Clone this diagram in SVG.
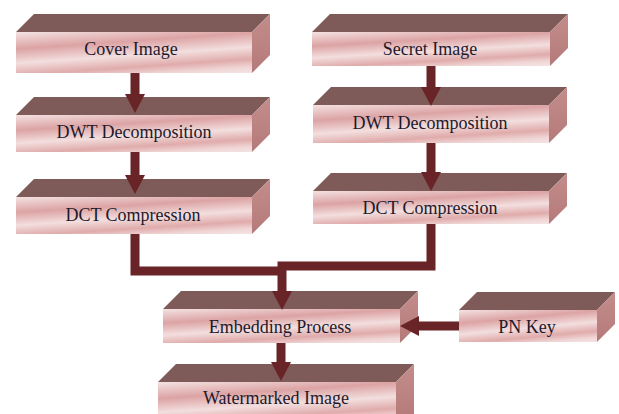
<svg xmlns="http://www.w3.org/2000/svg" width="619" height="414" viewBox="0 0 619 414">
  <defs>
    <linearGradient id="faceGrad" x1="0" y1="0" x2="0.48" y2="1.2">
      <stop offset="0" stop-color="#f4e2e2"/>
      <stop offset="0.3" stop-color="#dca3a4"/>
      <stop offset="0.55" stop-color="#f3dede"/>
      <stop offset="0.76" stop-color="#e0abab"/>
      <stop offset="0.9" stop-color="#f0d6d6"/>
      <stop offset="1" stop-color="#f4e2e2"/>
    </linearGradient>
    <linearGradient id="sideGrad" x1="0" y1="0" x2="0" y2="1">
      <stop offset="0" stop-color="#c38d8c"/>
      <stop offset="1" stop-color="#b47a79"/>
    </linearGradient>
    <marker id="head" viewBox="0 -10 19 20" markerUnits="userSpaceOnUse" markerWidth="19" markerHeight="20" refX="0" refY="0" orient="auto">
      <path d="M0,-10 L19,0 L0,10 Z" fill="#682426"/>
    </marker>
    <style>
      .top { fill: #7e5a59; }
      .side { fill: url(#sideGrad); }
      .front { fill: url(#faceGrad); }
      .label { font-family: 'Liberation Serif', serif; font-size: 18px; fill: #1c1a2c; text-anchor: middle; }
      .wire { fill: none; stroke: #682426; stroke-width: 9; stroke-linejoin: miter; }
    </style>
  </defs>

  <rect width="619" height="414" fill="#ffffff"/>

  <!-- boxes: front face, top face, right face; depth offset 18,18 -->
  <g id="cover-image">
    <polygon class="top" points="16,32 34,14 270,14 252,32"/>
    <polygon class="side" points="252,32 270,14 270,55 252,73"/>
    <rect class="front" x="16" y="32" width="236" height="41"/>
    <text class="label" font-family="'Liberation Serif'" x="131" y="55">Cover Image</text>
  </g>

  <g id="dwt-left">
    <polygon class="top" points="16,115 34,97 270,97 252,115"/>
    <polygon class="side" points="252,115 270,97 270,134 252,152"/>
    <rect class="front" x="16" y="115" width="236" height="37"/>
    <text class="label" font-family="'Liberation Serif'" x="134" y="138">DWT Decomposition</text>
  </g>

  <g id="dct-left">
    <polygon class="top" points="16,197 34,179 270,179 252,197"/>
    <polygon class="side" points="252,197 270,179 270,216 252,234"/>
    <rect class="front" x="16" y="197" width="236" height="37"/>
    <text class="label" font-family="'Liberation Serif'" x="133" y="221">DCT Compression</text>
  </g>

  <g id="secret-image">
    <polygon class="top" points="312,32 330,14 568,14 550,32"/>
    <polygon class="side" points="550,32 568,14 568,48 550,66"/>
    <rect class="front" x="312" y="32" width="238" height="34"/>
    <text class="label" font-family="'Liberation Serif'" x="430" y="55">Secret Image</text>
  </g>

  <g id="dwt-right">
    <polygon class="top" points="313,105 331,87 567,87 549,105"/>
    <polygon class="side" points="549,105 567,87 567,125 549,143"/>
    <rect class="front" x="313" y="105" width="236" height="38"/>
    <text class="label" font-family="'Liberation Serif'" x="430" y="129">DWT Decomposition</text>
  </g>

  <g id="dct-right">
    <polygon class="top" points="313,191 331,173 567,173 549,191"/>
    <polygon class="side" points="549,191 567,173 567,206 549,224"/>
    <rect class="front" x="313" y="191" width="236" height="33"/>
    <text class="label" font-family="'Liberation Serif'" x="430" y="214">DCT Compression</text>
  </g>

  <g id="embedding-process">
    <polygon class="top" points="163,309 181,291 418,291 400,309"/>
    <polygon class="side" points="400,309 418,291 418,325 400,343"/>
    <rect class="front" x="163" y="309" width="237" height="34"/>
    <text class="label" font-family="'Liberation Serif'" x="280" y="333">Embedding Process</text>
  </g>

  <g id="pn-key">
    <polygon class="top" points="459,310 477,292 615,292 597,310"/>
    <polygon class="side" points="597,310 615,292 615,324 597,342"/>
    <rect class="front" x="459" y="310" width="138" height="32"/>
    <text class="label" font-family="'Liberation Serif'" x="527" y="333">PN Key</text>
  </g>

  <g id="watermarked-image">
    <polygon class="top" points="158,382 176,364 414,364 396,382"/>
    <polygon class="side" points="396,382 414,364 414,414 396,420"/>
    <rect class="front" x="158" y="382" width="238" height="40"/>
    <text class="label" font-family="'Liberation Serif'" x="276" y="404">Watermarked Image</text>
  </g>

  <!-- connectors -->
  <g id="connectors">
    <path class="wire" d="M135,73 V94" marker-end="url(#head)"/>
    <path class="wire" d="M135,152 V175" marker-end="url(#head)"/>
    <path class="wire" d="M431,66 V87" marker-end="url(#head)"/>
    <path class="wire" d="M431,143 V172" marker-end="url(#head)"/>
    <path class="wire" d="M135,234 V271 H282"/>
    <path class="wire" d="M431,224 V266 H282 V291" marker-end="url(#head)"/>
    <path class="wire" d="M459,326 H419" marker-end="url(#head)"/>
    <path class="wire" d="M281,343 V362" marker-end="url(#head)"/>
  </g>
</svg>
